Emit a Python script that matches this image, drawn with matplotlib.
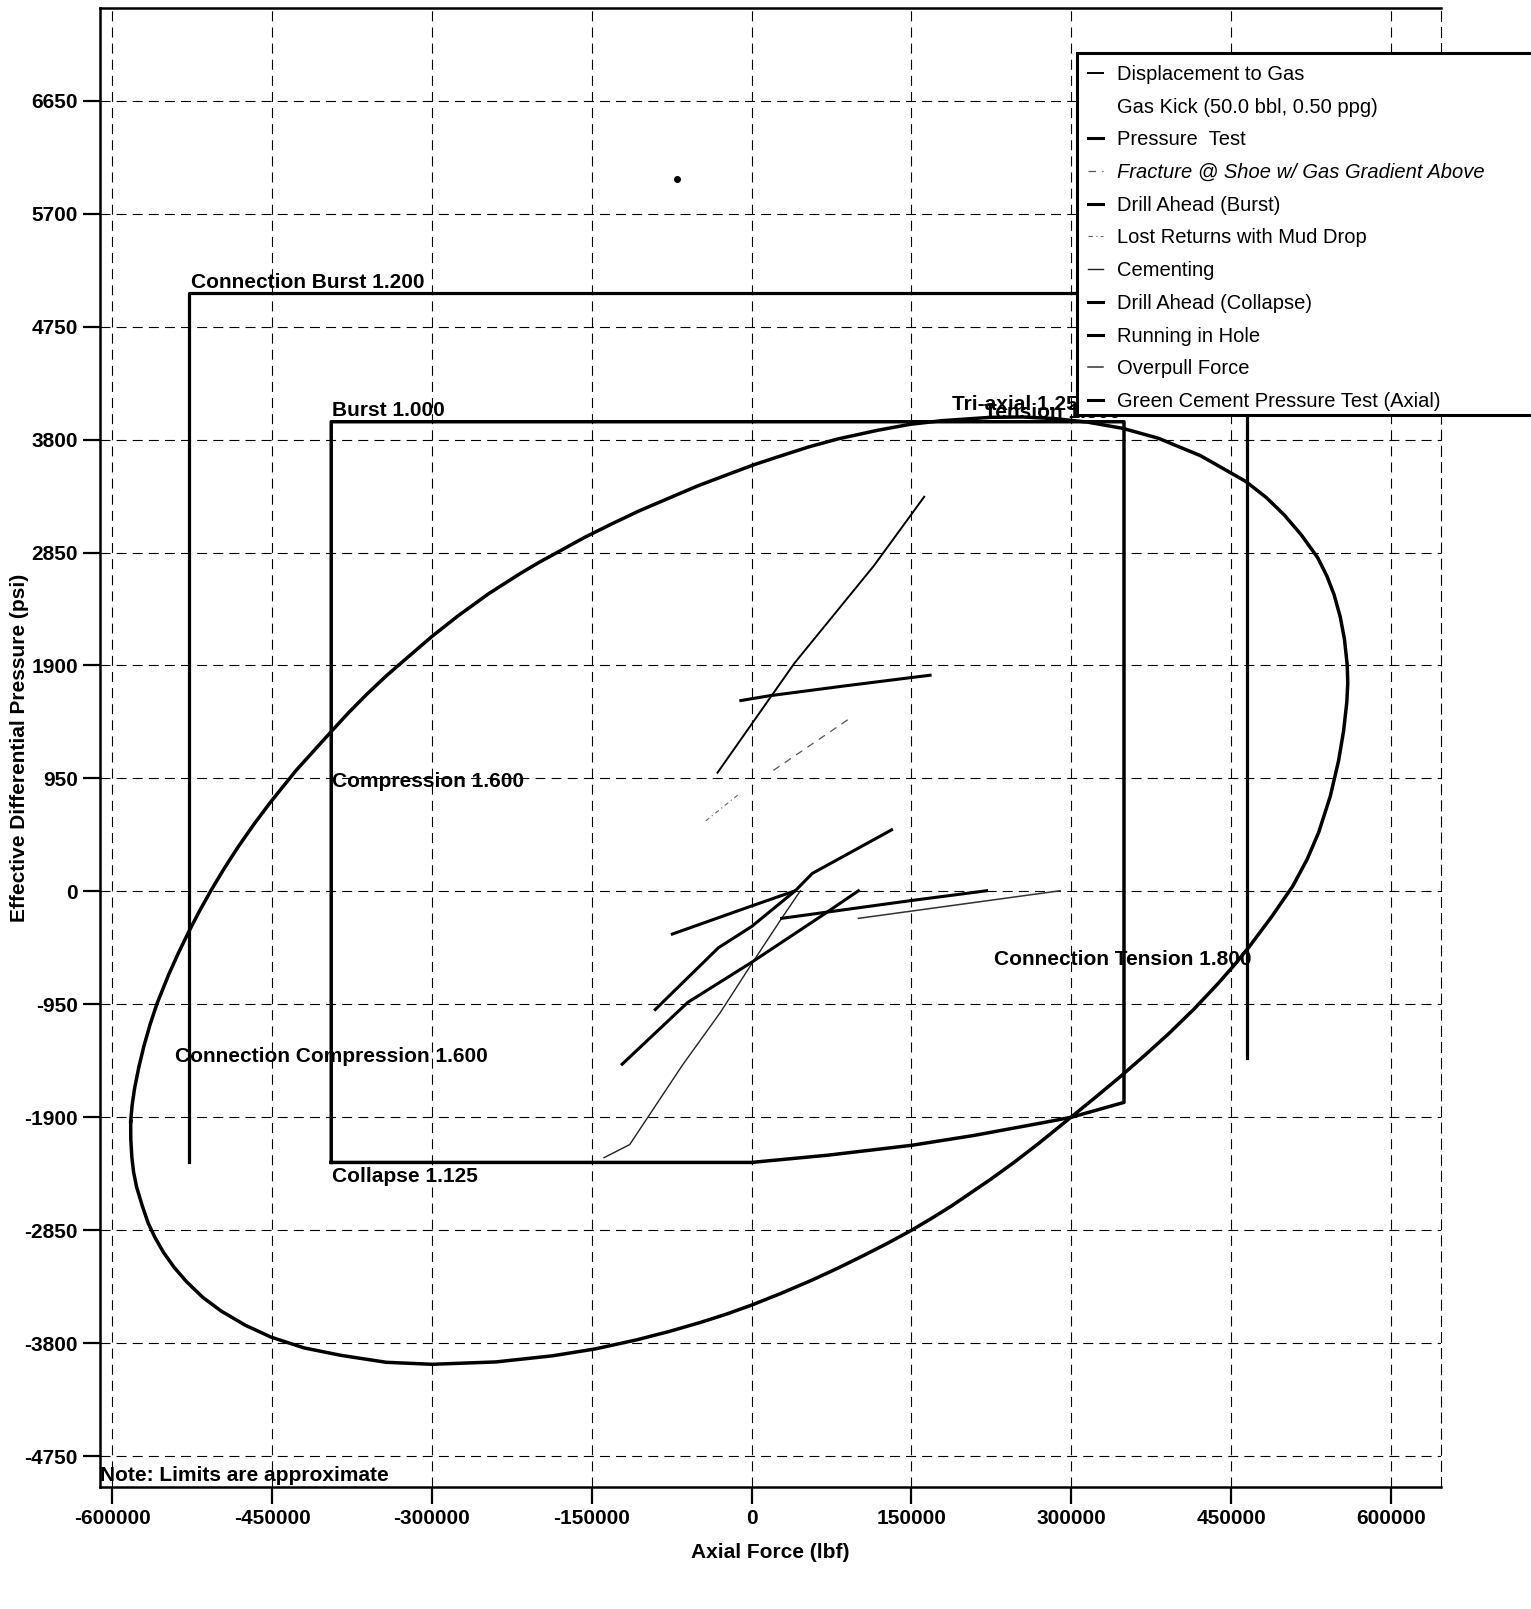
import matplotlib
matplotlib.use('Agg')
import matplotlib.pyplot as plt
from matplotlib.lines import Line2D
from matplotlib.patches import Rectangle

plt.rcParams['font.family'] = ['Liberation Sans', 'DejaVu Sans']
plt.rcParams['axes.unicode_minus'] = False

# ---- data ----
x_ticks = [-600000, -450000, -300000, -150000, 0, 150000, 300000, 450000, 600000]
y_ticks = [6650, 5700, 4750, 3800, 2850, 1900, 950, 0, -950, -1900, -2850, -3800, -4750]

# tri-axial 1.25 ellipse (read around the curve, clockwise from the leftmost point)
tri_x = [-582700, -581350, -579100, -575100, -570300, -564500, -558000, -546900, -538000,
         -528700, -518400, -507200, -495100, -482400, -467000, -450900, -427600, -394800,
         -378000, -360900, -342500, -324100, -299600, -275100, -246500, -217900, -199500,
         -181100, -156600, -132100, -105600, -79000, -50400, -21800, 2400, 26500, 53900,
         81300, 118200, 148500, 178800, 224200, 254500, 284800, 315100, 348500, 381800,
         421200, 463600, 483000, 500000, 516000, 531300, 540000, 546600, 552400, 556400,
         559000, 559500, 558600, 555600, 550900, 543100, 532200, 521400, 507800, 488000,
         467200, 453000, 437500, 415000, 391000, 369000, 347000, 323000, 300000, 269600,
         247000, 223900, 187300, 169000, 150200, 128000, 105100, 81000, 56400, 28000, 0,
         -24000, -47000, -77000, -107700, -147000, -187200, -240000, -300000, -343000,
         -385800, -420000, -450800, -475000, -497800, -515000, -530300, -542000, -552000,
         -560000, -566400, -572000, -577200, -580000, -581600, -582600, -582700]
tri_y = [-1935, -1800, -1660, -1480, -1302, -1120, -944, -697, -520,
         -348, -170, 10, 190, 367, 565, 757, 1016, 1341,
         1505, 1660, 1815, 1958, 2147, 2320, 2505, 2669, 2767,
         2857, 2978, 3087, 3200, 3302, 3411, 3508, 3589, 3660, 3739,
         3806, 3878, 3928, 3959, 3987, 3990, 3976, 3947, 3894, 3811,
         3665, 3449, 3313, 3165, 2997, 2806, 2650, 2497, 2310, 2120,
         1904, 1750, 1591, 1350, 1100, 800, 496, 270, 43, -214,
         -464, -620, -778, -992, -1201, -1379, -1551, -1730, -1898, -2119,
         -2275, -2425, -2648, -2750, -2850, -2958, -3063, -3169, -3271, -3380, -3480,
         -3557, -3623, -3701, -3772, -3849, -3907, -3958, -3978, -3961,
         -3902, -3840, -3750, -3650, -3530, -3415, -3283, -3162, -3035,
         -2910, -2788, -2640, -2485, -2360, -2237, -2085, -1935]

# API pipe body envelope (burst / compression / collapse)
api_x = [-394500, -394500, 349500, 349500, 300000, 275700, 208700, 150200, 71600, 0, -394500]
api_y = [-2280, 3950, 3950, -1775, -1900, -1942, -2053, -2136, -2219, -2280, -2280]

# connection envelope
conn_x = [-528000, -528000, 465000, 465000]
conn_y = [-2280, 5030, 5030, -1400]

# load cases
disp_gas_x = [-32000, 40200, 114800, 162000]
disp_gas_y = [998, 1919, 2739, 3319]
gas_kick_x = [-69900]
gas_kick_y = [5988]
press_test_x = [-10050, 17400, 87400, 167500]
press_test_y = [1605, 1646, 1728, 1818]
fracture_x = [20400, 92000]
fracture_y = [1017, 1454]
drill_burst_x = [-74360, 0, 41000]
drill_burst_y = [-359, -123, 5]
lost_ret_x = [-43000, -11600]
lost_ret_y = [593, 820]
cementing_x = [-138500, -114400, -64700, -29500, 0, 28200, 45800]
cementing_y = [-2240, -2130, -1459, -1021, -611, -227, 5]
drill_coll_x = [-121500, -59900, 0, 66700, 100300]
drill_coll_y = [-1454, -934, -597, -200, 5]
rih_x = [28200, 150000, 220500]
rih_y = [-227, -77, 5]
overpull_x = [100300, 289400]
overpull_y = [-227, 5]
green_x = [-90400, -31100, 0, 41000, 57000, 131400]
green_y = [-994, -474, -296, 5, 151, 517]

W, H = 1531, 1609
fig = plt.figure(figsize=(W / 100, H / 100), dpi=100)
ax = fig.add_axes([100 / W, 122 / H, 1341 / W, 1479 / H])

# envelopes
ax.plot(tri_x, tri_y, color='black', lw=2.5, zorder=3, solid_joinstyle='round')
ax.plot(api_x, api_y, color='black', lw=2.5, zorder=3)
ax.plot(conn_x, conn_y, color='black', lw=2.3, zorder=3)

# load lines
h = []
h += ax.plot(disp_gas_x, disp_gas_y, color='black', lw=1.4, label='Displacement to Gas')
ax.plot(gas_kick_x, gas_kick_y, 'o', color='black', ms=4)
h.append(Line2D([], [], linestyle='none', label='Gas Kick (50.0 bbl, 0.50 ppg)'))
h += ax.plot(press_test_x, press_test_y, color='black', lw=2.2, label='Pressure  Test')
h += ax.plot(fracture_x, fracture_y, color='#555555', lw=0.9, ls=(0, (6, 5)),
             label='Fracture @ Shoe w/ Gas Gradient Above')
h += ax.plot(drill_burst_x, drill_burst_y, color='black', lw=2.2, label='Drill Ahead (Burst)')
h += ax.plot(lost_ret_x, lost_ret_y, color='#666666', lw=0.8, ls=(0, (4, 3, 1, 3)),
             label='Lost Returns with Mud Drop')
h += ax.plot(cementing_x, cementing_y, color='#222222', lw=1.0, label='Cementing')
h += ax.plot(drill_coll_x, drill_coll_y, color='black', lw=2.2, label='Drill Ahead (Collapse)')
h += ax.plot(rih_x, rih_y, color='black', lw=2.2, label='Running in Hole')
h += ax.plot(overpull_x, overpull_y, color='#333333', lw=1.1, label='Overpull Force')
h += ax.plot(green_x, green_y, color='black', lw=2.2, label='Green Cement Pressure Test (Axial)')

# envelope labels
lab = dict(fontsize=15, fontweight='bold', ha='left', va='center', zorder=4)
ax.text(-525800, 5124, 'Connection Burst 1.200', **lab)
ax.text(-393400, 4045, 'Burst 1.000', **lab)
ax.text(188000, 4099, 'Tri-axial 1.250', **lab)
ax.text(218000, 4030, 'Tension 1.800', **lab)
ax.text(-393600, 925, 'Compression 1.600', **lab)
ax.text(-541100, -1390, 'Connection Compression 1.600', **lab)
ax.text(227500, -573, 'Connection Tension 1.800', **lab)
ax.text(-394100, -2397, 'Collapse 1.125', **lab)
ax.text(0.0, 0.008, 'Note: Limits are approximate', transform=ax.transAxes,
        fontsize=15, fontweight='bold', ha='left', va='center')

ax.set_xlim(-611500, 647000)
ax.set_ylim(-5010, 7430)
ax.set_xticks(x_ticks)
ax.set_xticklabels([str(v) for v in x_ticks])
ax.set_yticks(y_ticks)
ax.set_yticklabels([str(v) for v in y_ticks])
for t in ax.get_xticklabels() + ax.get_yticklabels():
    t.set_fontweight('bold')
ax.tick_params(direction='out', length=12, width=1.6, labelsize=15, pad=4)

ax.grid(True, color='black', ls=(0, (9, 5.5)), lw=0.8)
for s in ['left', 'bottom', 'top']:
    ax.spines[s].set_linewidth(1.8)
ax.spines['right'].set_linestyle((0, (9, 5.5)))
ax.spines['right'].set_linewidth(0.8)

ax.set_xlabel('Axial Force (lbf)', fontsize=15, fontweight='bold')
ax.set_ylabel('Effective Differential Pressure (psi)', fontsize=15, fontweight='bold')
ax.xaxis.set_label_coords(0.5, -0.038)
ax.yaxis.set_label_coords(-0.053, 0.5)

# legend box (open to the right edge of the page)
fig.patches.append(Rectangle((1077 / W, 1 - 415 / H), 0.4, 362 / H, transform=fig.transFigure,
                             facecolor='white', edgecolor='black', lw=2.2, zorder=4))
leg = fig.legend(handles=h, loc='upper left', bbox_to_anchor=(1088 / W, 1 - 65 / H),
                 frameon=False, fontsize=14.5, handlelength=0.75, handletextpad=0.7,
                 labelspacing=0.68, borderpad=0, borderaxespad=0)
leg.set_zorder(6)
leg.get_texts()[3].set_style('italic')

fig.savefig('out.png', dpi=100)
